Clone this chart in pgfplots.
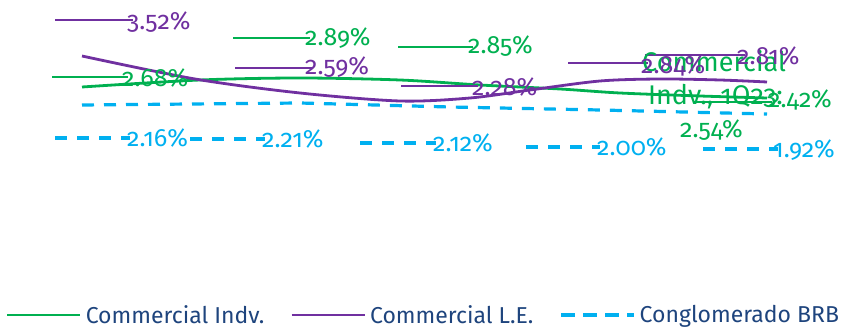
\documentclass[border=0pt]{standalone}
\usepackage{pgfplots}
\pgfplotsset{compat=1.18}
\usepackage{fontspec}
\setmainfont{Fira Sans}[Numbers=OldStyle]
\definecolor{cgreen}{RGB}{0,176,80}
\definecolor{cpurple}{RGB}{112,48,160}
\definecolor{cblue}{RGB}{0,176,240}
\definecolor{cnavy}{RGB}{30,68,125}
\pgfplotsset{blueleg/.style={legend image code/.code={\path (0pt,0pt) -- (73pt,0pt);
    \draw[##1, dash pattern=on 14pt off 8pt] (0pt,0pt) -- (60pt,0pt);}}}
\begin{document}
\begin{tikzpicture}[lbl/.style={anchor=west, inner sep=0pt, font=\fontsize{25}{27}\selectfont},
  tip/.style={anchor=west, inner sep=0pt, font=\fontsize{27}{29}\selectfont}]
\begin{axis}[
  width=845pt, height=328pt, scale only axis,
  xmin=0, xmax=845, ymin=0, ymax=328, y dir=reverse,
  hide axis, clip=false,
  legend style={at={(axis cs:6,315)}, anchor=west, draw=none, fill=none,
    legend columns=3, inner sep=0pt, outer sep=0pt,
    font=\fontsize{23}{25}\selectfont, text=cnavy,
    /tikz/every even column/.append style={column sep=24pt},
    /tikz/every odd column/.append style={column sep=2pt}},
  legend image code/.code={\draw[#1] (0pt,0pt) -- (73pt,0pt);},
]
% main curves (pixel positions)
\addplot[cgreen, line width=2.8pt, smooth] coordinates {
 (82,87) (200,80) (300,78) (400,80) (480,85) (560,89) (620,93) (700,96) (767,98)};
\addlegendentry{Commercial Indv.}
\addplot[cpurple, line width=2.8pt, smooth] coordinates {
 (82,56) (195,79) (300,93) (400,101) (470,98) (530,90) (600,81) (660,79) (720,80) (767,82)};
\addlegendentry{Commercial L.E.}
\addplot[cblue, line width=3.2pt, dash pattern=on 12pt off 10pt, blueleg] coordinates {
 (82,105) (300,103) (450,107) (600,110) (767,114)};
\addlegendentry{Conglomerado BRB}
% leader segments
\addplot[cpurple, line width=2.8pt, forget plot] coordinates {(55,20) (133,20)};
\addplot[cpurple, line width=2.8pt, forget plot] coordinates {(235,68) (313,68)};
\addplot[cpurple, line width=2.8pt, forget plot] coordinates {(401,86) (478,86)};
\addplot[cpurple, line width=2.8pt, forget plot] coordinates {(568,63) (648,63)};
\addplot[cpurple, line width=2.8pt, forget plot] coordinates {(645,55) (745,55)};
\addplot[cgreen, line width=2.8pt, forget plot] coordinates {(52,77) (128,77)};
\addplot[cgreen, line width=2.8pt, forget plot] coordinates {(233,38) (310,38)};
\addplot[cgreen, line width=2.8pt, forget plot] coordinates {(398,47) (473,47)};
\addplot[cgreen, line width=2.8pt, forget plot] coordinates {(693,102) (772,102)};
\addplot[cblue, line width=3.2pt, dash pattern=on 12pt off 10pt, forget plot] coordinates {(55,138) (130,138)};
\addplot[cblue, line width=3.2pt, dash pattern=on 12pt off 10pt, forget plot] coordinates {(190,139) (265,139)};
\addplot[cblue, line width=3.2pt, dash pattern=on 12pt off 10pt, forget plot] coordinates {(360,143) (436,143)};
\addplot[cblue, line width=3.2pt, dash pattern=on 12pt off 10pt, forget plot] coordinates {(526,147) (600,147)};
\addplot[cblue, line width=3.2pt, dash pattern=on 12pt off 10pt, forget plot] coordinates {(703,149) (778,149)};
% labels
\node[lbl, text=cpurple] at (axis cs:127,22) {3.52\%};
\node[lbl, text=cpurple] at (axis cs:305,67) {2.59\%};
\node[lbl, text=cpurple] at (axis cs:472,87) {2.28\%};
\node[lbl, text=cgreen] at (axis cs:122,78) {2.68\%};
\node[lbl, text=cgreen] at (axis cs:305,38) {2.89\%};
\node[lbl, text=cgreen] at (axis cs:468,46) {2.85\%};
\node[tip, text=cgreen] at (axis cs:642,61) {Commercial};
\node[lbl, text=cpurple] at (axis cs:641,66) {2.84\%};
\node[lbl, text=cpurple] at (axis cs:737,56) {2.81\%};
\node[tip, text=cgreen] at (axis cs:648,97) {Indv., 1Q23:};
\node[lbl, text=cgreen] at (axis cs:768,100) {2.42\%};
\node[lbl, text=cgreen] at (axis cs:680,130) {2.54\%};
\node[lbl, text=cblue] at (axis cs:127,138) {2.16\%};
\node[lbl, text=cblue] at (axis cs:262,139) {2.21\%};
\node[lbl, text=cblue] at (axis cs:433,143) {2.12\%};
\node[lbl, text=cblue] at (axis cs:597,147) {2.00\%};
\node[lbl, text=cblue] at (axis cs:773,150) {1.92\%};
\end{axis}
\pgfresetboundingbox
\path (0,0) rectangle (845pt,328pt);
\end{tikzpicture}
\end{document}
